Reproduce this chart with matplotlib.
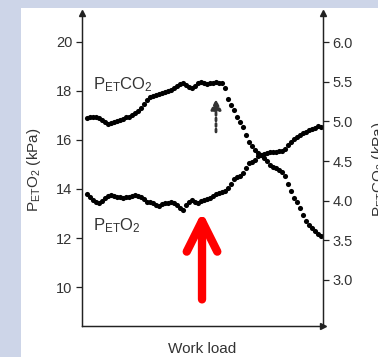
import matplotlib.pyplot as plt
import numpy as np
from matplotlib.patches import Rectangle

plt.rcParams['font.family'] = ['Liberation Sans', 'DejaVu Sans']
plt.rcParams['mathtext.fontset'] = 'custom'
plt.rcParams['mathtext.rm'] = 'Liberation Sans'
plt.rcParams['mathtext.it'] = 'Liberation Sans:italic'

# breath-by-breath end-tidal values over an incremental work load
co2_kpa = [5.04, 5.05, 5.05, 5.05, 5.04, 5.02, 4.99, 4.97, 4.98, 4.99,
           5.00, 5.02, 5.03, 5.05, 5.05, 5.08, 5.10, 5.13, 5.17, 5.22,
           5.27, 5.31, 5.32, 5.33, 5.34, 5.36, 5.37, 5.38, 5.39, 5.42,
           5.45, 5.47, 5.48, 5.46, 5.43, 5.42, 5.45, 5.48, 5.50, 5.48,
           5.47, 5.48, 5.48, 5.50, 5.48, 5.48, 5.42, 5.28, 5.21, 5.14,
           5.05, 4.99, 4.93, 4.83, 4.74, 4.69, 4.64, 4.60, 4.58, 4.54,
           4.50, 4.45, 4.42, 4.41, 4.39, 4.36, 4.31, 4.21, 4.12, 4.03,
           3.98, 3.91, 3.82, 3.74, 3.69, 3.65, 3.62, 3.58, 3.55]

o2_kpa = [13.81, 13.69, 13.57, 13.48, 13.44, 13.52, 13.65, 13.73, 13.77, 13.73,
          13.69, 13.69, 13.65, 13.69, 13.69, 13.73, 13.77, 13.73, 13.69, 13.61,
          13.48, 13.48, 13.44, 13.36, 13.32, 13.40, 13.44, 13.44, 13.48, 13.44,
          13.36, 13.24, 13.16, 13.36, 13.48, 13.57, 13.48, 13.44, 13.52, 13.57,
          13.61, 13.65, 13.73, 13.81, 13.85, 13.89, 13.93, 14.06, 14.22, 14.39,
          14.47, 14.55, 14.67, 14.84, 15.04, 15.12, 15.20, 15.33, 15.37, 15.41,
          15.45, 15.49, 15.49, 15.49, 15.53, 15.53, 15.62, 15.78, 15.90, 16.02,
          16.11, 16.19, 16.27, 16.31, 16.39, 16.43, 16.48, 16.56, 16.52]

o2_ticks = [10, 12, 14, 16, 18, 20]
co2_ticks = [3.0, 3.5, 4.0, 4.5, 5.0, 5.5, 6.0]

load = np.arange(len(co2_kpa))

fig = plt.figure(figsize=(3.78, 3.57), dpi=100)
fig.patch.set_facecolor('#cdd5e8')
fig.patches.append(Rectangle((21 / 378, 0), 1, 349 / 357, transform=fig.transFigure,
                             facecolor='white', edgecolor='none', zorder=-1))

ax = fig.add_axes([82 / 378, 31 / 357, 241 / 378, 313 / 357])
ax.set_facecolor('none')
ax2 = ax.twinx()

txt = '#333333'
spine_c = '#222222'

ax.plot(load, o2_kpa, 'o', color='black', ms=3.7, mec='none')
ax2.plot(load, co2_kpa, 'o', color='black', ms=3.7, mec='none')

ax.set_xlim(-1.67, 78.67)
ax.set_ylim(8.41, 21.18)
ax2.set_ylim(2.42, 6.366)
ax.set_yticks(o2_ticks)
ax.set_yticklabels([str(t) for t in o2_ticks])
ax2.set_yticks(co2_ticks)
ax2.set_yticklabels(['%.1f' % t for t in co2_ticks])
ax.set_xticks([])

for a in (ax, ax2):
    a.spines['top'].set_visible(False)
    for s in ('left', 'right', 'bottom'):
        a.spines[s].set_color(spine_c)
        a.spines[s].set_linewidth(0.9)
    a.tick_params(axis='y', length=4, width=0.9, color=spine_c, labelsize=10.5,
                  labelcolor=txt, pad=3)

ax.set_xlabel('Work load', fontsize=11, color=txt)
ax.xaxis.set_label_coords(0.5, -0.05)
ax.xaxis.label.set_va('top')
ax.set_ylabel('P$_{\\mathrm{ET}}$O$_2$ (kPa)', fontsize=11, color=txt)
ax.yaxis.set_label_coords(-0.162, 0.5)
ax2.set_ylabel('P$_{\\mathrm{ET}}$CO$_2$ (kPa)', fontsize=11, color=txt)
ax2.yaxis.set_label_coords(1.195, 0.5)

# arrow heads at the ends of the axes
for x, y, m in ((0, 1, '^'), (1, 1, '^'), (1, 0, '>')):
    ax.plot(x, y, m, color=spine_c, ms=4, transform=ax.transAxes, clip_on=False)

ax.text(0.045, 0.755, 'P$_{\\mathrm{ET}}$CO$_2$', transform=ax.transAxes,
        fontsize=12, color=txt)
ax.text(0.045, 0.305, 'P$_{\\mathrm{ET}}$O$_2$', transform=ax.transAxes,
        fontsize=12, color=txt)

# dotted arrow where CO2 starts to fall
ax.annotate('', xy=(0.556, 0.725), xytext=(0.556, 0.62), xycoords='axes fraction',
            arrowprops=dict(arrowstyle='-|>,head_length=0.6,head_width=0.3',
                            color='#333333', lw=2, linestyle=(0, (1, 1)),
                            shrinkA=0, shrinkB=0, mutation_scale=10))

# red arrow marking the threshold
ax.annotate('', xy=(0.498, 0.365), xytext=(0.498, 0.085), xycoords='axes fraction',
            arrowprops=dict(arrowstyle='->,head_length=22,head_width=11',
                            color='#ff0000', lw=6, capstyle='round', joinstyle='round',
                            shrinkA=0, shrinkB=0, mutation_scale=1))

fig.savefig('out.png', dpi=100, facecolor=fig.get_facecolor())
